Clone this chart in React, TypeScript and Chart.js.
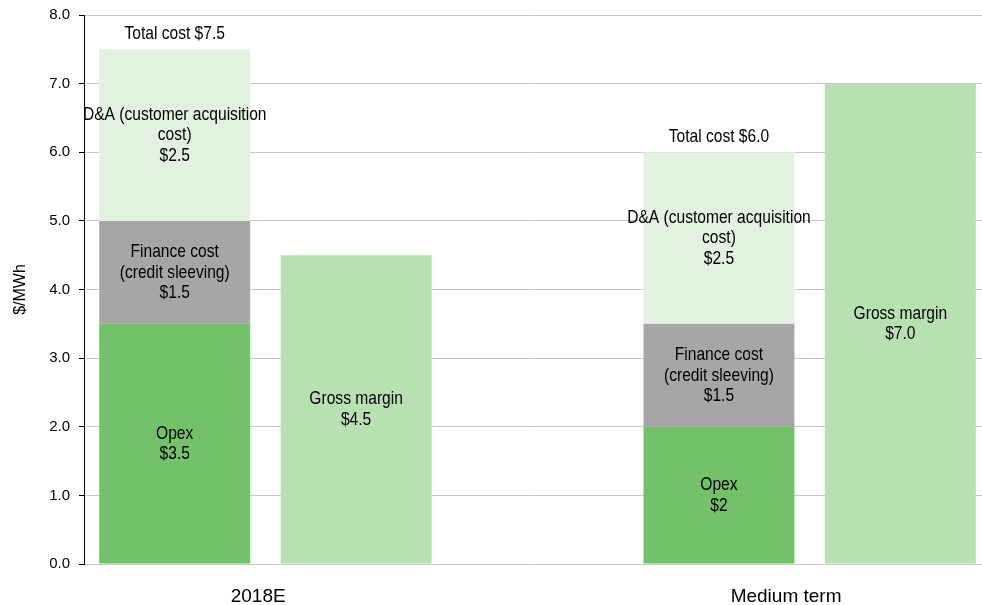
import React, { useEffect, useRef } from "react";
import { Chart, registerables } from "chart.js";

Chart.register(...registerables);

// ---- data ----
const categories = ["2018E", "Medium term"];
const opex = [3.5, 2.0];
const financeCost = [1.5, 1.5];
const daCost = [2.5, 2.5];
const grossMargin = [4.5, 7.0];
const seriesNames = [
  "Opex",
  "Finance cost\n(credit sleeving)",
  "D&A (customer acquisition\ncost)",
  "Gross margin",
];
const yTickValues = [0, 1, 2, 3, 4, 5, 6, 7, 8];

// ---- style ----
const FONT = "'Liberation Sans', Arial, sans-serif";
const NARROW_SCALE = 0.82; // emulate Arial Narrow
const colors = ["#73C169", "#A6A6A6", "#E2F1E0", "#B9E0B3"];

// slot layout on a linear x axis: cost bar, margin bar, empty slot
const costX = (i: number) => 1 + 3 * i;
const marginX = (i: number) => 2 + 3 * i;
const categoryLabelAt = [1.46, 4.37];

const fmtValue = (ds: number, v: number) => (ds === 0 ? String(v) : v.toFixed(1));

function narrowText(ctx: CanvasRenderingContext2D, text: string, x: number, y: number) {
  ctx.save();
  ctx.translate(x, y);
  ctx.scale(NARROW_SCALE, 1);
  ctx.fillText(text, 0, 0);
  ctx.restore();
}

const labelPlugin = {
  id: "segmentLabels",
  afterDatasetsDraw(chart: any) {
    const ctx = chart.ctx as CanvasRenderingContext2D;
    ctx.save();
    ctx.fillStyle = "#000";
    ctx.textAlign = "center";
    ctx.font = `19px ${FONT}`;
    const lh = 20.5;
    chart.data.datasets.forEach((ds: any, di: number) => {
      const meta = chart.getDatasetMeta(di);
      meta.data.forEach((el: any, i: number) => {
        const v = ds.data[i].y;
        const lines = [...seriesNames[di].split("\n"), "$" + fmtValue(di, v)];
        const { x, y, base } = el.getProps(["x", "y", "base"], true);
        const cy = (y + base) / 2;
        ctx.textBaseline = "middle";
        lines.forEach((ln: string, k: number) => {
          narrowText(ctx, ln, x, cy + (k - (lines.length - 1) / 2) * lh);
        });
      });
    });
    // total cost labels above the stacked bars
    const topMeta = chart.getDatasetMeta(2);
    topMeta.data.forEach((el: any, i: number) => {
      const total = opex[i] + financeCost[i] + daCost[i];
      const { x, y } = el.getProps(["x", "y"], true);
      ctx.textBaseline = "alphabetic";
      narrowText(ctx, "Total cost $" + total.toFixed(1), x, y - 10);
    });
    ctx.restore();
  },
};

export default function App() {
  const ref = useRef<HTMLCanvasElement | null>(null);

  useEffect(() => {
    document.body.style.margin = "0";
    const canvas = ref.current;
    if (!canvas) return;

    const costSeries = [opex, financeCost, daCost];
    const datasets: any[] = costSeries.map((arr, di) => ({
      label: seriesNames[di],
      data: arr.map((v, i) => ({ x: costX(i), y: v })),
      backgroundColor: colors[di],
      borderWidth: 0,
    }));
    datasets.push({
      label: seriesNames[3],
      data: grossMargin.map((v, i) => ({ x: marginX(i), y: v })),
      backgroundColor: colors[3],
      borderWidth: 0,
    });

    const chart = new Chart(canvas, {
      type: "bar",
      data: { datasets },
      plugins: [labelPlugin],
      options: {
        animation: false,
        responsive: false,
        devicePixelRatio: 1,
        datasets: { bar: { barPercentage: 0.832, categoryPercentage: 1 } },
        layout: { padding: { top: 15, left: 0, right: 0, bottom: 0 } },
        plugins: { legend: { display: false }, tooltip: { enabled: false } },
        scales: {
          x: {
            type: "linear",
            stacked: true,
            offset: false,
            min: 0.5,
            max: 5.45,
            grid: { display: false, offset: false },
            border: { display: false },
            afterBuildTicks: (scale: any) => {
              scale.ticks = categoryLabelAt.map((v) => ({ value: v }));
            },
            afterFit: (scale: any) => {
              scale.height = 41;
              scale.paddingLeft = 0;
              scale.paddingRight = 0;
            },
            ticks: {
              autoSkip: false,
              maxRotation: 0,
              padding: 13,
              color: "#000",
              font: { family: FONT, size: 19 },
              callback: (_v: any, idx: number) => categories[idx],
            },
          },
          y: {
            stacked: true,
            min: 0,
            max: 8,
            afterBuildTicks: (scale: any) => {
              scale.ticks = yTickValues.map((v) => ({ value: v }));
            },
            afterFit: (scale: any) => {
              scale.width = 84;
              scale.paddingTop = 0;
              scale.paddingBottom = 0;
            },
            grid: {
              color: "#C8C8C8",
              lineWidth: 1,
              tickColor: "#000",
              tickLength: 5,
            },
            border: { display: true, color: "#000", width: 1 },
            ticks: {
              padding: 9,
              color: "#000",
              font: { family: FONT, size: 15 },
              callback: (v: any) => Number(v).toFixed(1),
            },
            title: {
              display: true,
              text: "$/MWh",
              color: "#000",
              font: { family: FONT, size: 16 },
              padding: { top: 11, bottom: 0 },
            },
          },
        },
      },
    });
    return () => chart.destroy();
  }, []);

  return (
    <div style={{ position: "relative", width: 982, height: 605 }}>
      <canvas ref={ref} width={982} height={605} />
    </div>
  );
}
